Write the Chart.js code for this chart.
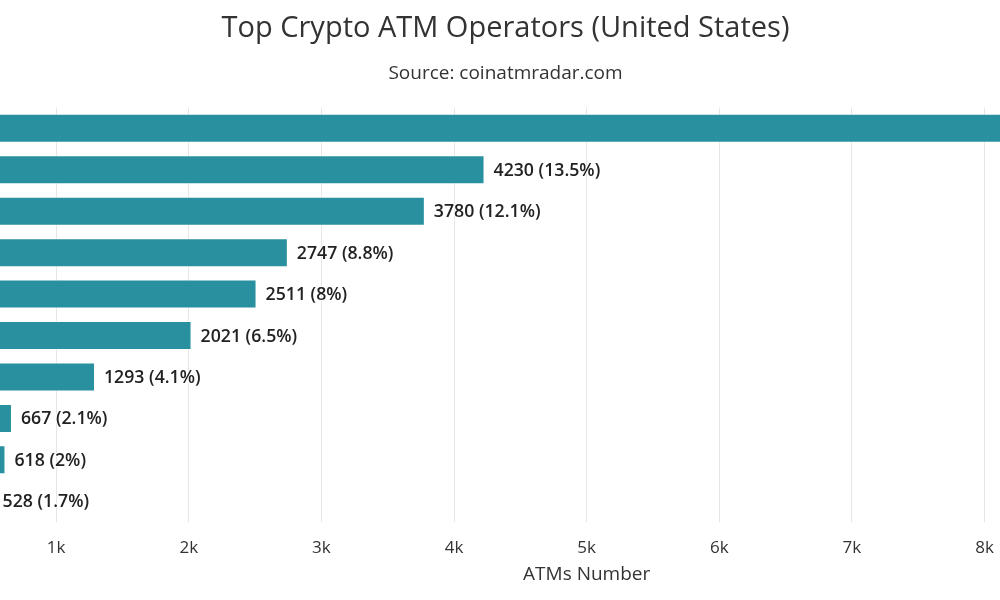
<!DOCTYPE html>
<html lang="en">
<head>
    <meta charset="UTF-8">
    <title>Top Crypto ATM Operators (United States)</title>
    <style>
        html, body {
            margin: 0;
            padding: 0;
            width: 1000px;
            height: 600px;
            overflow: hidden;
            background: #fff;
        }
        .chart-wrap {
            position: absolute;
            left: -272px;
            top: 0;
            width: 1552px;
            height: 600px;
        }
    </style>
    <script src="https://cdn.jsdelivr.net/npm/chart.js"></script>
</head>
<body>
    <div class="chart-wrap">
        <canvas id="atmChart" width="1552" height="600"></canvas>
    </div>
    <script>
        // operators, ATM counts and share of all US machines
        const operators = ['Bitcoin Depot', 'CoinFlip', 'Athena Bitcoin', 'Bitcoin of America', 'Coinhub',
            'RockItCoin', 'Byte Federal', 'Coinsource', 'BitStop', 'Cash2Bitcoin'];
        const atmCounts = [8560, 4230, 3780, 2747, 2511, 2021, 1293, 667, 618, 528];
        const atmShares = ['27.4', '13.5', '12.1', '8.8', '8', '6.5', '4.1', '2.1', '2', '1.7'];
        const xTicks = [0, 1000, 2000, 3000, 4000, 5000, 6000, 7000, 8000, 9000, 10000];

        const barColor = 'rgb(41, 144, 159)';
        const fontFamily = '"Open Sans", "DejaVu Sans", sans-serif';

        // value label after the end of each bar
        const barLabels = {
            id: 'barLabels',
            afterDatasetsDraw(chart) {
                const ctx = chart.ctx;
                const meta = chart.getDatasetMeta(0);
                ctx.save();
                ctx.font = '600 17.7px ' + fontFamily;
                ctx.textAlign = 'left';
                ctx.textBaseline = 'middle';
                ctx.lineJoin = 'round';
                meta.data.forEach((bar, i) => {
                    const text = atmCounts[i] + ' (' + atmShares[i] + '%)';
                    ctx.strokeStyle = '#ffffff';
                    ctx.lineWidth = 2;
                    ctx.strokeText(text, bar.x + 9, bar.y + 1);
                    ctx.fillStyle = '#222222';
                    ctx.fillText(text, bar.x + 9, bar.y + 1);
                });
                ctx.restore();
            }
        };

        const ctx = document.getElementById('atmChart').getContext('2d');
        new Chart(ctx, {
            type: 'bar',
            data: {
                labels: operators,
                datasets: [{
                    label: 'ATMs Number',
                    data: atmCounts,
                    backgroundColor: barColor,
                    borderColor: 'rgba(255, 255, 255, 0.55)',
                    borderWidth: 1,
                    barPercentage: 0.7,
                    categoryPercentage: 1.0
                }]
            },
            options: {
                indexAxis: 'y',
                responsive: false,
                animation: false,
                layout: {
                    padding: { left: 20, right: 17, top: 0, bottom: 14 }
                },
                plugins: {
                    legend: { display: false },
                    tooltip: { enabled: false },
                    title: {
                        display: true,
                        text: 'Top Crypto ATM Operators (United States)',
                        color: '#333333',
                        font: { family: fontFamily, size: 29, weight: 'normal' },
                        padding: { top: 11, bottom: 16 }
                    },
                    subtitle: {
                        display: true,
                        text: 'Source: coinatmradar.com',
                        color: '#333333',
                        font: { family: fontFamily, size: 19, weight: 'normal' },
                        padding: { top: 0, bottom: 23 }
                    }
                },
                scales: {
                    x: {
                        type: 'linear',
                        min: 0,
                        max: 10000,
                        afterBuildTicks: (scale) => {
                            scale.ticks = xTicks.map(v => ({ value: v }));
                        },
                        afterFit: (scale) => {
                            scale.height = 64;
                        },
                        grid: {
                            color: '#e6e6e6',
                            lineWidth: 1,
                            drawTicks: false
                        },
                        border: { display: false },
                        ticks: {
                            color: '#333333',
                            font: { family: fontFamily, size: 17 },
                            padding: 16,
                            callback: (v) => v === 0 ? '0' : (v / 1000) + 'k'
                        },
                        title: {
                            display: true,
                            text: 'ATMs Number',
                            color: '#333333',
                            font: { family: fontFamily, size: 19 },
                            padding: { top: 0, bottom: 0 }
                        }
                    },
                    y: {
                        afterFit: (scale) => {
                            scale.width = 175.5;
                        },
                        grid: { display: false },
                        border: { display: false },
                        ticks: {
                            color: '#333333',
                            font: { family: fontFamily, size: 15 }
                        }
                    }
                }
            },
            plugins: [barLabels]
        });
    </script>
</body>
</html>
